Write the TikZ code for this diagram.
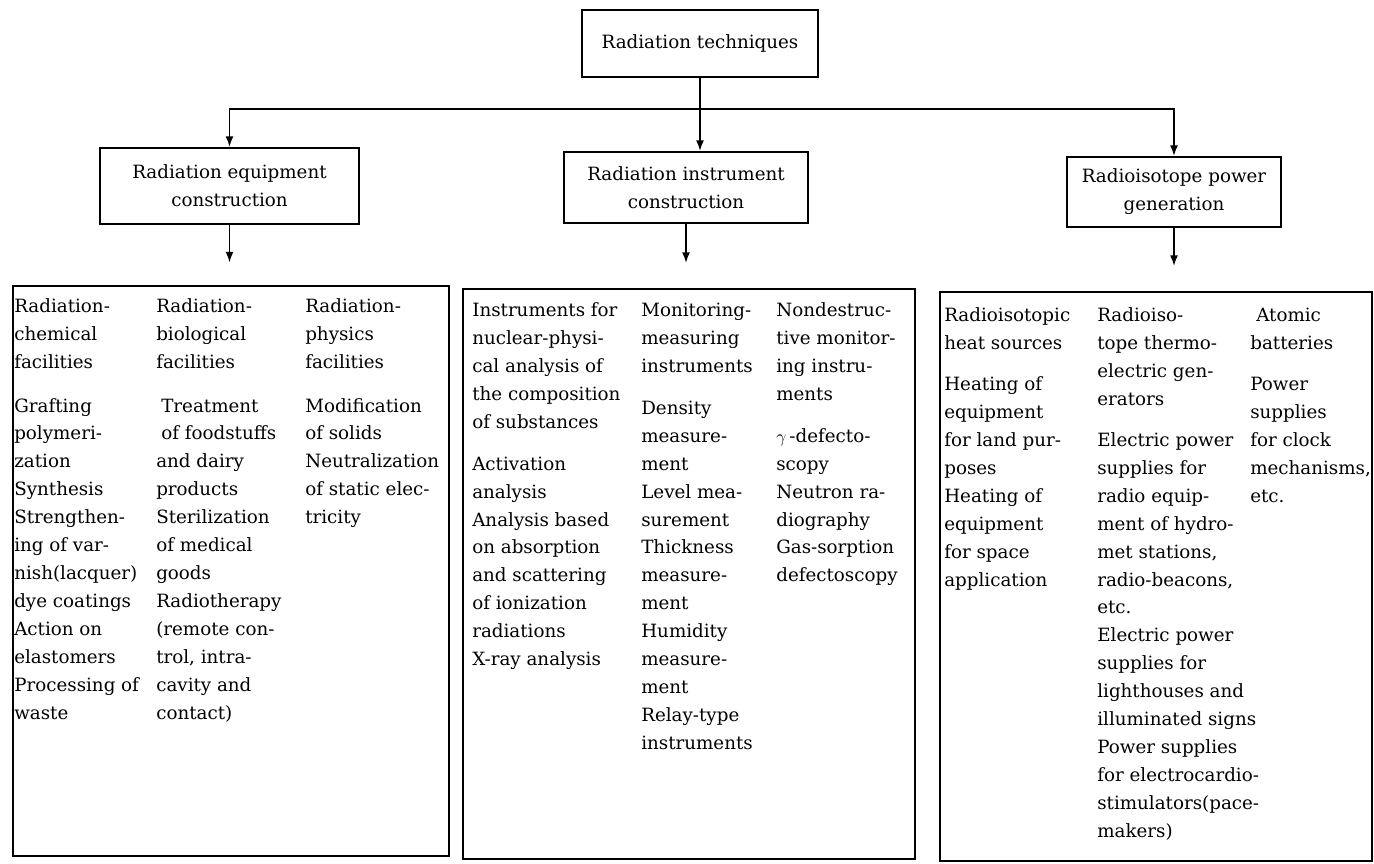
\documentclass[tikz,border=0pt]{standalone}
\usepackage{fontspec}
\setmainfont{DejaVu Serif}
\usetikzlibrary{arrows.meta,positioning,calc}

\begin{document}
\begin{tikzpicture}[
    every node/.style={font=\fontsize{10.4}{15.9}\selectfont},
    block/.style={rectangle, draw=black, line width=1.2pt, align=center, inner sep=2pt},
    group/.style={rectangle, draw=black, line width=1.2pt},
    column/.style={align=left, inner sep=0pt},
    arrow/.style={line width=0.9pt,->,>={Latex[length=6pt,width=4.5pt]}}
]
    \useasboundingbox (0,0) rectangle (27.48,-17.26);

    % Nodes
    \node[block, minimum width=4.72cm, minimum height=1.34cm] (tech) at (14.0,-0.87) {Radiation techniques};
    \node[block, minimum width=5.18cm, minimum height=1.52cm] (equip) at (4.59,-3.72) {Radiation equipment\\construction};
    \node[block, minimum width=4.88cm, minimum height=1.42cm] (instr) at (13.72,-3.75) {Radiation instrument\\construction};
    \node[block, minimum width=4.28cm, minimum height=1.40cm] (power) at (23.48,-3.84) {Radioisotope power\\generation};

    % Groups
    \node[group, minimum width=8.72cm, minimum height=11.4cm] (equipbox) at (4.62,-11.42) {};
    \node[group, minimum width=9.04cm, minimum height=11.4cm] (instrbox) at (13.78,-11.48) {};
    \node[group, minimum width=8.64cm, minimum height=11.38cm] (powerbox) at (23.12,-11.53) {};

    % Arrows
    \coordinate (bus) at ($(tech.south)+(0,-0.62)$);
    \draw[arrow] (tech.south) -- (tech.south |- instr.north);
    \draw[arrow] (bus) -| (equip.north);
    \draw[arrow] (bus) -| (power.north);
    \draw[arrow, shorten >=0.45cm] (equip.south) -- (equip.south |- equipbox.north);
    \draw[arrow, shorten >=0.5cm] (instr.south) -- (instr.south |- instrbox.north);
    \draw[arrow, shorten >=0.5cm] (power.south) -- (power.south |- powerbox.north);

    % Equipment columns
    \node[column, below right=0.15cm and 0.04cm of equipbox.north west] (chem) {\strut Radiation-\\chemical\\facilities\\[9pt]Grafting\\polymeri-\\zation\\Synthesis\\Strengthen-\\ing of var-\\nish(lacquer)\\dye coatings\\Action on\\elastomers\\Processing of\\waste};
    \node[column, below right=0.15cm and 2.88cm of equipbox.north west] (bio) {\strut Radiation-\\biological\\facilities\\[9pt]\hspace*{0.1cm}Treatment\\\hspace*{0.1cm}of foodstuffs\\and dairy\\products\\Sterilization\\of medical\\goods\\Radiotherapy\\(remote con-\\trol, intra-\\cavity and\\contact)};
    \node[column, below right=0.15cm and 5.86cm of equipbox.north west] (phys) {\strut Radiation-\\physics\\facilities\\[9pt]Modification\\of solids\\Neutralization\\of static elec-\\tricity};

    % Instrument columns
    \node[column, below right=0.17cm and 0.2cm of instrbox.north west] (nucl) {\strut Instruments for\\nuclear-physi-\\cal analysis of\\the composition\\of substances\\[8pt]Activation\\analysis\\Analysis based\\on absorption\\and scattering\\of ionization\\radiations\\X-ray analysis};
    \node[column, below right=0.17cm and 3.58cm of instrbox.north west] (meas) {\strut Monitoring-\\measuring\\instruments\\[8pt]Density\\measure-\\ment\\Level mea-\\surement\\Thickness\\measure-\\ment\\Humidity\\measure-\\ment\\Relay-type\\instruments};
    \node[column, below right=0.17cm and 6.28cm of instrbox.north west] (ndt) {\strut Nondestruc-\\tive monitor-\\ing instru-\\ments\\[8pt]$\gamma$\,-defecto-\\scopy\\Neutron ra-\\diography\\Gas-sorption\\defectoscopy};

    % Power columns
    \node[column, below right=0.21cm and 0.1cm of powerbox.north west] (heat) {\strut Radioisotopic\\heat sources\\[7.5pt]Heating of\\equipment\\for land pur-\\poses\\Heating of\\equipment\\for space\\application};
    \node[column, below right=0.21cm and 3.16cm of powerbox.north west] (rteg) {\strut Radioiso-\\tope thermo-\\electric gen-\\erators\\[7.5pt]Electric power\\supplies for\\radio equip-\\ment of hydro-\\met stations,\\radio-beacons,\\etc.\\Electric power\\supplies for\\lighthouses and\\illuminated signs\\Power supplies\\for electrocardio-\\stimulators(pace-\\makers)};
    \node[column, below right=0.21cm and 6.22cm of powerbox.north west] (atom) {\strut \hspace*{0.12cm}Atomic\\batteries\\[7.5pt]Power\\supplies\\for clock\\mechanisms,\\etc.};

\end{tikzpicture}
\end{document}
